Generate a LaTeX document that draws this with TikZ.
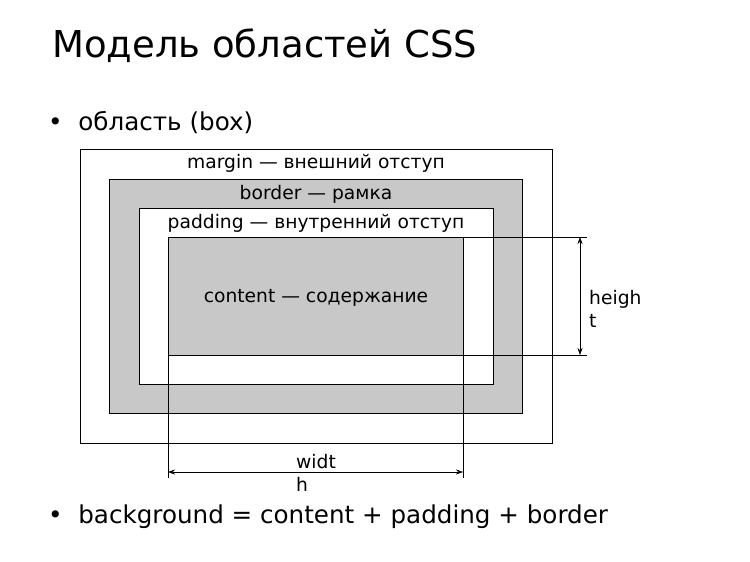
\documentclass[tikz,border=0pt]{standalone}
\usepackage{fontspec}
\setmainfont{DejaVu Sans}
\usetikzlibrary{arrows.meta, positioning}
\definecolor{boxgray}{RGB}{200,200,200}
\tikzset{
  cssbox/.style={draw, thick},
  csslabel/.style={font=\fontsize{18.7}{22}\selectfont, inner sep=0pt},
  cssguide/.style={draw, thin},
  cssdim/.style={{Stealth[length=7pt,width=5pt]}-{Stealth[length=7pt,width=5pt]}, thin},
  cssbullet/.style={anchor=west, font=\fontsize{24.6}{29}\selectfont, inner sep=0pt},
}
\begin{document}
\begin{tikzpicture}[x=1pt, y=-1pt]
  \useasboundingbox (0,0) rectangle (750,562);

  % Title and bullets.
  \node[anchor=west, font=\fontsize{37}{42}\selectfont, inner sep=0pt] (title) at (52,46) {Модель областей CSS};
  \node[cssbullet] (box) at (48,123) {•\ \ область (box)};
  \node[cssbullet] (bg) at (48,517) {•\ \ background = content + padding + border};

  % Nested areas.
  \draw[cssbox, fill=white] (80,149) rectangle (552,443);
  \draw[cssbox, fill=boxgray] (109,179) rectangle (522,413);
  \draw[cssbox, fill=white] (139,208) rectangle (493,384);
  \draw[cssbox, fill=boxgray] (168,237) rectangle (463,355);

  \node[csslabel] (margin) at (316,163) {margin — внешний отступ};
  \node[csslabel] (border) at (316,194) {border — рамка};
  \node[csslabel] (padding) at (316,223) {padding — внутренний отступ};
  \node[csslabel] (content) at (316,298) {content — содержание};

  % Height.
  \coordinate (ctr) at (463,237);
  \coordinate (cbr) at (463,355);
  \coordinate (htop) at (587,237);
  \coordinate (hbot) at (587,355);
  \coordinate (ha) at (580,237);
  \coordinate (hb) at (580,355);
  \path[cssguide] (ctr) -- (htop) (cbr) -- (hbot);
  \draw[cssdim] (ha) -- (hb);
  \node[csslabel, anchor=west, align=left] (height) at (589,309) {heigh\\[1pt]t};

  % Width.
  \coordinate (cbl) at (168,355);
  \coordinate (wl) at (168,478);
  \coordinate (wr) at (463,478);
  \coordinate (wa) at (168,472);
  \coordinate (wb) at (463,472);
  \path[cssguide] (cbl) -- (wl) (cbr) -- (wr);
  \draw[cssdim] (wa) -- (wb);
  \node[csslabel, align=left, anchor=west] (width) at (296,473) {widt\\[1pt]h};
\end{tikzpicture}
\end{document}
